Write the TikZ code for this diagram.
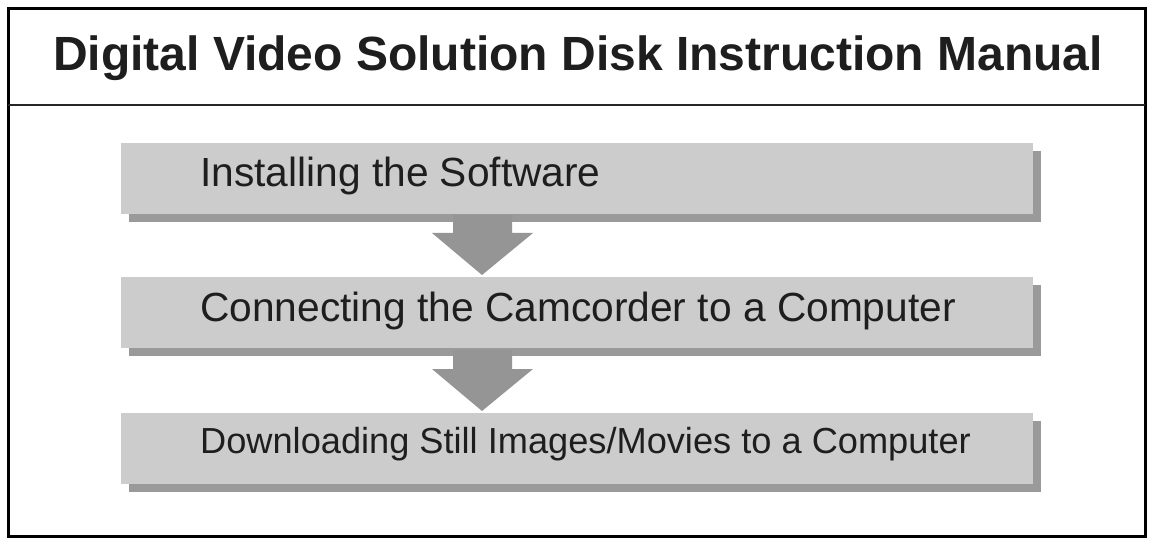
\documentclass[tikz,border=0pt]{standalone}
\usepackage{fontspec}
\setmainfont{Liberation Sans}
\begin{document}
\begin{tikzpicture}[x=1pt,y=-1pt,
  boxfill/.style={fill=boxgray,draw=none,inner sep=0pt,anchor=north west,minimum width=912pt,minimum height=71pt},
  shadowfill/.style={fill=shadowgray,draw=none,inner sep=0pt,anchor=north west,minimum width=912pt,minimum height=71pt},
  steptext/.style={anchor=base west,inner sep=0pt,text=textdark},
  flowarrow/.style={fill=arrowgray,draw=none}]
\definecolor{boxgray}{HTML}{CCCCCC}
\definecolor{shadowgray}{HTML}{9A9A9A}
\definecolor{arrowgray}{HTML}{959595}
\definecolor{textdark}{HTML}{1E1E1E}
\useasboundingbox (0,0) rectangle (1151,540);
\fill[white] (0,0) rectangle (1151,540);
% frame
\draw[line width=3pt,black] (8,9) rectangle (1145,536);
\draw[line width=2pt,black!85] (8,105) -- (1145,105);
\node[anchor=base,inner sep=0pt,text=textdark] (title) at (578,71)
  {\fontsize{48}{58}\selectfont\bfseries Digital Video Solution Disk Instruction Manual};
% shadows
\node[shadowfill] (s1) at (129,151) {};
\node[shadowfill] (s2) at (129,285) {};
\node[shadowfill] (s3) at (129,421) {};
% arrows
\fill[flowarrow] (453,215) -- (512,215) -- (512,233) -- (533,233) -- (482,275) -- (432,233) -- (453,233) -- cycle;
\fill[flowarrow] (453,350) -- (512,350) -- (512,369) -- (533,369) -- (482,411) -- (432,369) -- (453,369) -- cycle;
% boxes
\node[boxfill] (b1) at (121,143) {};
\node[boxfill] (b2) at (121,277) {};
\node[boxfill] (b3) at (121,413) {};
\node[steptext] (t1) at (200,187) {\fontsize{40.7}{48}\selectfont Installing the Software};
\node[steptext] (t2) at (200,321) {\fontsize{40.7}{48}\selectfont Connecting the Camcorder to a Computer};
\node[steptext] (t3) at (200,453) {\fontsize{36.2}{44}\selectfont Downloading Still Images/Movies to a Computer};
\end{tikzpicture}
\end{document}
